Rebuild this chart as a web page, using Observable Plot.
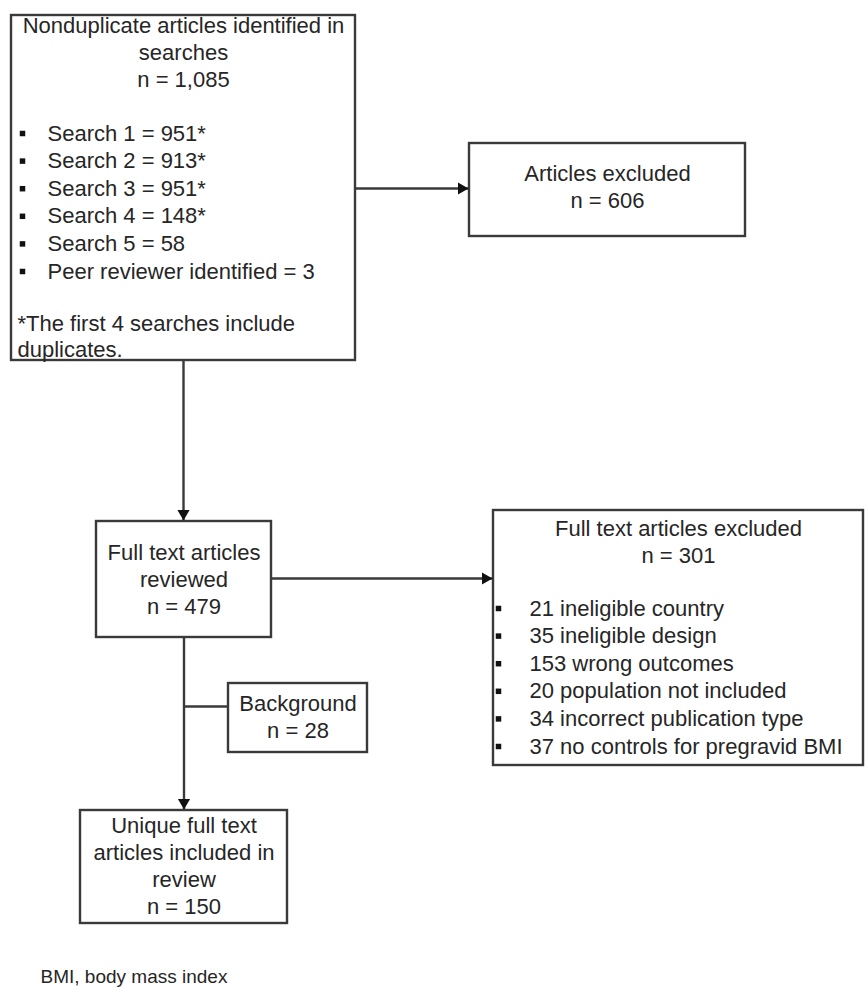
<!DOCTYPE html>
<html>
<head>
<meta charset="utf-8">
<script src="https://cdn.jsdelivr.net/npm/d3@7"></script>
<script src="https://cdn.jsdelivr.net/npm/@observablehq/plot@0.6"></script>
<style>
  html, body { margin: 0; padding: 0; background: #fff; }
  #chart svg { display: block; }
</style>
</head>
<body>
<div id="chart"></div>
<script>
// ---------- DATA (text and counts) ----------
const searchesTitle = ["Nonduplicate articles identified in", "searches"];
const searchesTotal = 1085;
const searchLabels = ["Search 1", "Search 2", "Search 3", "Search 4", "Search 5", "Peer reviewer identified"];
const searchCounts = [951, 913, 951, 148, 58, 3];
const searchHasDuplicates = [true, true, true, true, false, false];
const searchFootnote = ["*The first 4 searches include", "duplicates."];

const excludedTitle = ["Articles excluded"];
const excludedCount = 606;

const reviewedTitle = ["Full text articles", "reviewed"];
const reviewedCount = 479;

const backgroundTitle = ["Background"];
const backgroundCount = 28;

const ftExcludedTitle = ["Full text articles excluded"];
const ftExcludedCount = 301;
const ftReasons = ["ineligible country", "ineligible design", "wrong outcomes", "population not included", "incorrect publication type", "no controls for pregravid BMI"];
const ftReasonCounts = [21, 35, 153, 20, 34, 37];

const includedTitle = ["Unique full text", "articles included in", "review"];
const includedCount = 150;

const captionText = "BMI, body mass index";

// ---------- LAYOUT (diagram geometry, in pixel units of the scales) ----------
const layout = {
  searches:   {x1: 11,  x2: 355, y1: 15,  y2: 360, titleY: 25, bulletY: 133, footY: 323},
  excluded:   {x1: 469, x2: 745, y1: 143, y2: 236, titleY: 173},
  reviewed:   {x1: 96,  x2: 271, y1: 521, y2: 637, titleY: 552},
  background: {x1: 228, x2: 367, y1: 683, y2: 752, titleY: 703},
  ftExcluded: {x1: 493, x2: 863, y1: 510, y2: 765, titleY: 528, bulletY: 608},
  included:   {x1: 80,  x2: 287, y1: 810, y2: 923, titleY: 825},
  caption:    {x: 40, y: 976},
  lineH: 27.3,
  bulletLineH: 27.6,
  bulletInset: 11,
  textInset: 36
};

const fmt = d3.format(",");
const cx = b => (b.x1 + b.x2) / 2;

// boxes
const boxNames = ["searches", "excluded", "reviewed", "background", "ftExcluded", "included"];
const boxes = boxNames.map(k => ({name: k, ...layout[k]}));

// centered text lines
function centeredLines(box, title, count) {
  const lines = [...title, `n = ${fmt(count)}`];
  return lines.map((t, i) => ({text: t, x: cx(box), y: box.titleY + i * layout.lineH}));
}
const centered = [
  ...centeredLines(layout.searches, searchesTitle, searchesTotal),
  ...centeredLines(layout.excluded, excludedTitle, excludedCount),
  ...centeredLines(layout.reviewed, reviewedTitle, reviewedCount),
  ...centeredLines(layout.background, backgroundTitle, backgroundCount),
  ...centeredLines(layout.ftExcluded, ftExcludedTitle, ftExcludedCount),
  ...centeredLines(layout.included, includedTitle, includedCount)
];

// bullet lists
const searchItems = searchLabels.map((s, i) => ({
  text: `${s} = ${searchCounts[i]}${searchHasDuplicates[i] ? "*" : ""}`,
  bx: layout.searches.x1 + layout.bulletInset,
  x: layout.searches.x1 + layout.textInset,
  y: layout.searches.bulletY + i * layout.bulletLineH
}));
const ftItems = ftReasons.map((r, i) => ({
  text: `${ftReasonCounts[i]} ${r}`,
  bx: layout.ftExcluded.x1 + 5,
  x: layout.ftExcluded.x1 + 36,
  y: layout.ftExcluded.bulletY + i * layout.bulletLineH
}));
const bullets = [...searchItems, ...ftItems];

const footLines = searchFootnote.map((t, i) => ({
  text: t, x: layout.searches.x1 + 6, y: layout.searches.footY + i * 26
}));

// connectors
const L = layout;
const connectors = [
  {x1: L.searches.x2, y1: 188, x2: L.excluded.x1, y2: 188},
  {x1: cx(L.searches), y1: L.searches.y2, x2: cx(L.searches), y2: L.reviewed.y1},
  {x1: L.reviewed.x2, y1: 578, x2: L.ftExcluded.x1, y2: 578},
  {x1: cx(L.reviewed), y1: L.reviewed.y2, x2: cx(L.reviewed), y2: L.included.y1},
  {x1: cx(L.reviewed), y1: 706, x2: L.background.x1, y2: 706}
];
// arrowheads at connector ends (indices 0..3)
const headR = 5.8;
const headOffset = Math.sqrt(Math.PI) * headR * 0.6824; // tip distance of d3 triangle2
const heads = connectors.slice(0, 4).map(c => {
  const horiz = c.y1 === c.y2;
  return horiz
    ? {x: c.x2 - headOffset - 1, y: c.y2, rot: 90}
    : {x: c.x2, y: c.y2 - headOffset - 1, rot: 180};
});

const stroke = "#3a3a3a";
const textFill = "#262626";
const font = "Liberation Sans, Arial, Helvetica, sans-serif";
const fs = 22;

const chart = Plot.plot({
  width: 865,
  height: 990,
  margin: 0,
  style: {background: "#fff", fontFamily: font},
  x: {domain: [0, 865], range: [0, 865], axis: null},
  y: {domain: [0, 990], range: [0, 990], axis: null},
  marks: [
    Plot.link(connectors, {x1: "x1", y1: "y1", x2: "x2", y2: "y2", stroke, strokeWidth: 2.4}),
    Plot.rect(boxes, {x1: "x1", x2: "x2", y1: "y1", y2: "y2", fill: "white", stroke, strokeWidth: 2.4}),
    Plot.dot(heads, {x: "x", y: "y", rotate: "rot", symbol: "triangle2", r: headR, fill: "#111", stroke: "none"}),
    Plot.text(centered, {x: "x", y: "y", text: "text", textAnchor: "middle", fontSize: fs, fill: textFill, fontFamily: font}),
    Plot.dot(bullets, {x: "bx", y: "y", symbol: "square", r: 3.1, fill: "#111", stroke: "none"}),
    Plot.text(bullets, {x: "x", y: "y", text: "text", textAnchor: "start", fontSize: fs, fill: textFill, fontFamily: font}),
    Plot.text(footLines, {x: "x", y: "y", text: "text", textAnchor: "start", fontSize: fs, fill: textFill, fontFamily: font}),
    Plot.text([captionText], {x: L.caption.x, y: L.caption.y, text: d => d, textAnchor: "start", fontSize: 19, fill: textFill, fontFamily: font})
  ]
});
document.getElementById("chart").appendChild(chart);
</script>
</body>
</html>
